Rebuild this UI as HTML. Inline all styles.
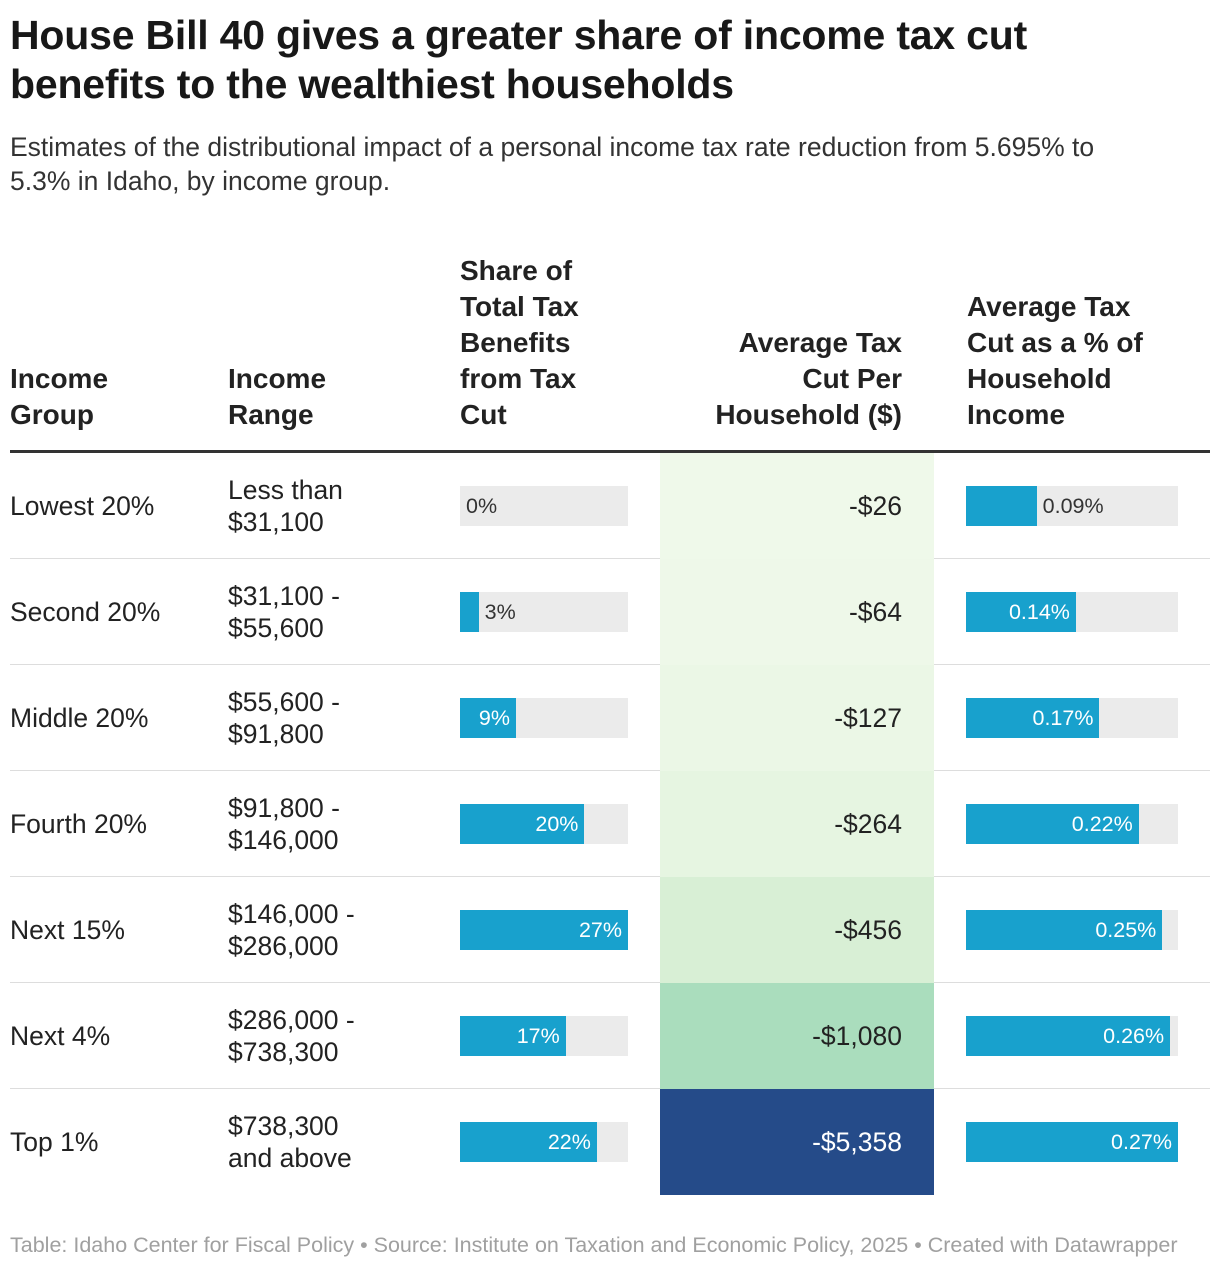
<!DOCTYPE html>
<html><head><meta charset="utf-8">
<style>
body{margin:0;width:1220px;height:1270px;background:#fff;font-family:"Liberation Sans",sans-serif;color:#181818;position:relative;overflow:hidden}
.a{position:absolute}
h1{position:absolute;left:10px;top:11px;margin:0;font-size:41px;line-height:49px;font-weight:bold;width:1090px;letter-spacing:-0.2px}
.sub{left:10px;top:130px;font-size:26.5px;line-height:34px;color:#333;width:1100px}
.hd{font-size:28px;line-height:36px;font-weight:bold;color:#222}
.cell{font-size:26.5px;line-height:32px;color:#222}
.bl{font-size:21.5px;line-height:40px}
</style></head><body>
<h1>House Bill 40 gives a greater share of income tax cut benefits to the wealthiest households</h1>
<div class="a sub">Estimates of the distributional impact of a personal income tax rate reduction from 5.695% to 5.3% in Idaho, by income group.</div>
<div class="a hd" style="left:10px;top:361px">Income<br>Group</div>
<div class="a hd" style="left:228px;top:361px">Income<br>Range</div>
<div class="a hd" style="left:460px;top:253px">Share of<br>Total Tax<br>Benefits<br>from Tax<br>Cut</div>
<div class="a hd" style="right:318px;top:325px;text-align:right">Average Tax<br>Cut Per<br>Household ($)</div>
<div class="a hd" style="left:967px;top:289px">Average Tax<br>Cut as a % of<br>Household<br>Income</div>
<div class="a" style="left:10px;top:450px;width:1200px;height:3px;background:#333"></div>
<div id="rows"></div>
<div class="a" style="left:10px;top:1233px;font-size:21.5px;color:#a0a0a0;white-space:nowrap">Table: Idaho Center for Fiscal Policy • Source: Institute on Taxation and Economic Policy, 2025 • Created with Datawrapper</div>
<script>
const groups=["Lowest 20%","Second 20%","Middle 20%","Fourth 20%","Next 15%","Next 4%","Top 1%"];
const ranges=[["Less than","$31,100"],["$31,100 -","$55,600"],["$55,600 -","$91,800"],["$91,800 -","$146,000"],["$146,000 -","$286,000"],["$286,000 -","$738,300"],["$738,300","and above"]];
const shares=[0,3,9,20,27,17,22];
const avgCut=[-26,-64,-127,-264,-456,-1080,-5358];
const pctIncome=[0.09,0.14,0.17,0.22,0.25,0.26,0.27];
const root=document.getElementById('rows');
const top0=453,rowH=106;
function heat(v){const a=Math.abs(v);
 const stops=[[0,[240,249,235]],[300,[229,244,224]],[500,[212,237,210]],[1100,[169,220,188]],[5400,[36,74,137]]];
 for(let i=1;i<stops.length;i++){if(a<=stops[i][0]){const t=(a-stops[i-1][0])/(stops[i][0]-stops[i-1][0]);const c=stops[i-1][1].map((x,j)=>Math.round(x+(stops[i][1][j]-x)*t));return c;}}
 return stops[stops.length-1][1];}
function mk(cls,style,html){const d=document.createElement('div');d.className='a '+cls;d.style.cssText=style;d.innerHTML=html||'';root.appendChild(d);return d;}
function bar(x,w,y,val,max,label,prefix){
 const t=mk('','left:'+x+'px;top:'+(y-20)+'px;width:'+w+'px;height:40px;background:#ebebeb');
 
 
 const bw=w*val/max;
 const b=mk('','left:'+x+'px;top:'+(y-20)+'px;width:'+bw+'px;height:40px;background:#18a1cd');
 
 
 let l;
 if(bw>label.length*12+16){l=mk('bl','left:'+x+'px;top:'+(y-20)+'px;width:'+(bw-6)+'px;text-align:right;color:#fff',label);}
 else{l=mk('bl','left:'+(x+bw+6)+'px;top:'+(y-20)+'px;color:#333',label);}
 
 
}
groups.forEach((g,i)=>{
 const y=top0+rowH*i, c=y+rowH/2;
 const hc=heat(avgCut[i]);
 const bg=mk('','left:660px;top:'+y+'px;width:274px;height:'+rowH+'px;background:rgb('+hc.join(',')+')');
 
 
 if(i<groups.length-1){const s=mk('','left:10px;top:'+(y+rowH-1)+'px;width:650px;height:1px;background:#ddd');
  
  
  const s2=mk('','left:934px;top:'+(y+rowH-1)+'px;width:276px;height:1px;background:#ddd');
  
  }
 const gl=mk('cell','left:10px;top:'+(c-16)+'px',g);
 
 
 const rl=mk('cell','left:228px;top:'+(c-32)+'px',ranges[i][0]+'<br>'+ranges[i][1]);
 
 
 bar(460,168,c,shares[i],27,shares[i]+'%','share');
 const dark=Math.abs(avgCut[i])>3000;
 const al=mk('cell','left:660px;width:242px;text-align:right;top:'+(c-16)+'px;color:'+(dark?'#fff':'#222'),'-$'+Math.abs(avgCut[i]).toLocaleString('en-US'));
 
 
 bar(966,212,c,pctIncome[i],0.27,pctIncome[i].toFixed(2)+'%','pct-income');
});
</script>
</body></html>
